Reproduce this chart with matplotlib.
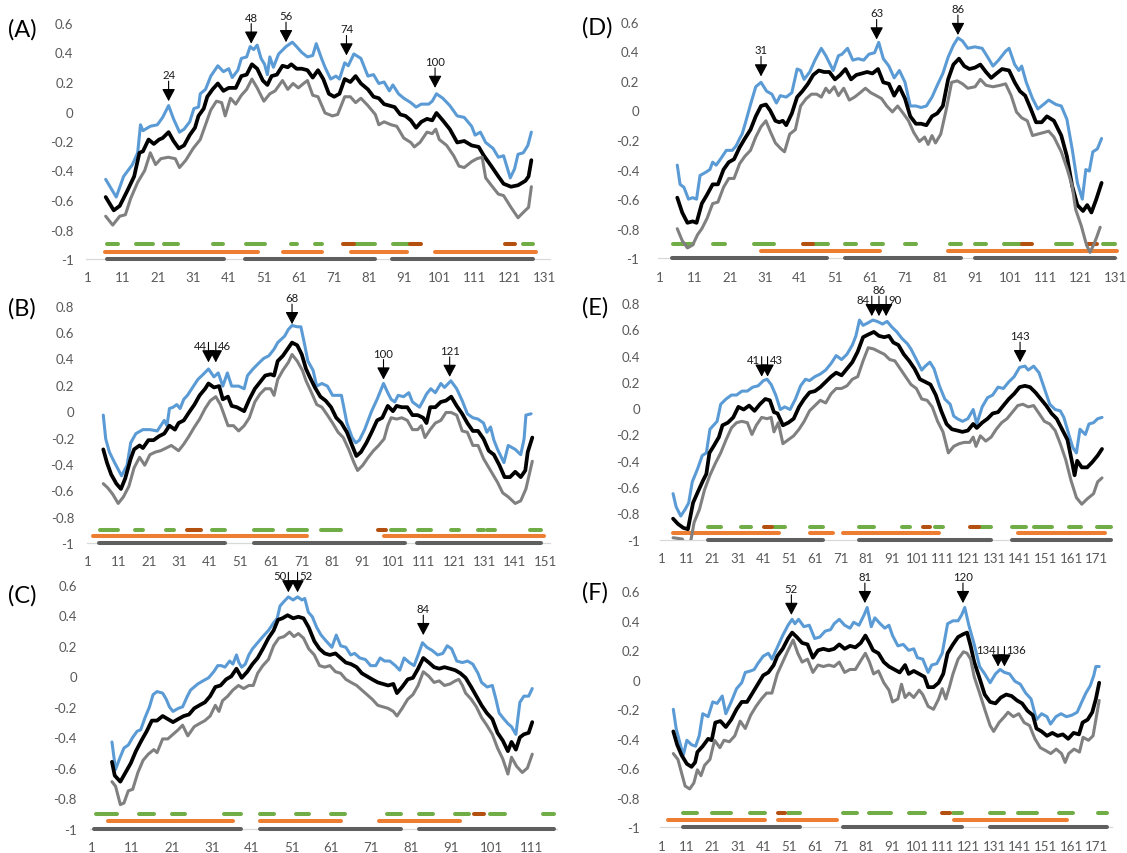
"""
Six-panel profile chart (A-F): three score curves per panel, segment tracks
underneath, and arrows marking selected residues.
"""

import matplotlib
matplotlib.use('Agg')
import matplotlib.pyplot as plt

plt.rcParams['font.family'] = ['Lato', 'DejaVu Sans']

# ─────────────────────────────────────────────────────────────────────────────
# Data  (residue, value) pairs
# ─────────────────────────────────────────────────────────────────────────────

# ---- Panel A ----
A_blue = [(6.1,-.46),(9.1,-.58),(11.2,-.44),(13.7,-.36),(15.2,-.28),(16,-.09),(16.7,-.13),(18.8,-.10),(20.8,-.09),(22.3,-.04),(24,.04),(25.4,-.05),(27.1,-.14),(28.4,-.12),(30,-.07),(31.2,.02),(32.5,.03),(33,.12),(34.5,.15),(36,.24),(38,.31),(39.6,.27),(41.1,.29),(42.1,.23),(43.7,.28),(44.7,.36),(46.2,.37),(47.2,.44),(48.2,.42),(49.2,.45),(50.3,.36),(51.3,.32),(52.1,.25),(52.8,.37),(53.8,.30),(55.3,.39),(57.4,.44),(59.2,.47),(60.4,.44),(61.9,.40),(63.5,.37),(65,.38),(66,.46),(67.5,.36),(68.5,.30),(70.1,.22),(71.6,.24),(72.6,.22),(74.1,.33),(75.1,.31),(76.7,.39),(78.7,.36),(80.7,.24),(82.3,.25),(83.8,.19),(85.3,.20),(86.8,.14),(87.8,.18),(89.4,.12),(90.9,.09),(92.9,.06),(94.4,.03),(95.9,.05),(98,.05),(99,.07),(100.2,.12),(102,.09),(104,.04),(106.1,-.03),(108.1,-.04),(110.2,-.10),(111.2,-.16),(112.7,-.14),(114.2,-.21),(116.3,-.25),(117.8,-.31),(119.3,-.30),(121.2,-.45),(122.4,-.39),(123.4,-.29),(124.9,-.28),(126.2,-.23),(127.2,-.14)]
A_black = [(6.1,-.58),(8.4,-.67),(10.1,-.64),(12.2,-.54),(14.2,-.44),(15.7,-.28),(16.7,-.27),(18.3,-.19),(19.8,-.22),(21.3,-.19),(22.3,-.18),(24,-.14),(25.4,-.20),(26.9,-.25),(28.4,-.23),(30,-.16),(31.5,-.11),(32.5,-.03),(34,.02),(35,.10),(36.5,.15),(38,.19),(39.6,.14),(41.1,.16),(43.1,.16),(44.7,.24),(46.2,.25),(47.7,.32),(49.2,.29),(50.8,.21),(52.1,.18),(53.3,.24),(54.8,.25),(56.4,.31),(57.9,.30),(58.9,.32),(60.4,.29),(61.9,.29),(63.5,.28),(65,.23),(66.5,.28),(68,.22),(69.6,.12),(71.1,.10),(72.6,.12),(74.1,.22),(75.7,.20),(77.2,.24),(78.7,.19),(80.7,.15),(82.3,.10),(83.8,.09),(85.3,.05),(86.8,.04),(88.3,.03),(89.9,-.02),(91.4,-.03),(92.9,-.06),(94.4,-.11),(95.9,-.07),(97.5,-.05),(99,-.06),(100.2,-.01),(102,-.06),(104,-.12),(106.1,-.21),(108.1,-.20),(110.2,-.23),(112.2,-.24),(113.7,-.30),(115.8,-.37),(117.8,-.44),(119.3,-.49),(121.4,-.51),(123.4,-.50),(125.5,-.47),(126.4,-.44),(127.2,-.33)]
A_gray = [(6.1,-.71),(8.1,-.77),(10.1,-.71),(11.7,-.70),(13.2,-.59),(15.2,-.48),(17.2,-.40),(18.8,-.28),(20.3,-.36),(21.8,-.32),(23.9,-.31),(25.9,-.32),(27.1,-.38),(28.9,-.33),(31,-.25),(33,-.19),(34.5,-.09),(36,.01),(37.6,.07),(39.1,.06),(40.1,-.03),(41.6,.09),(43.1,.05),(44.7,.11),(46.2,.15),(47.7,.22),(49.2,.16),(51.1,.07),(52.8,.12),(54.3,.14),(56.4,.21),(57.9,.15),(59.4,.19),(60.9,.16),(62.4,.19),(63.5,.21),(65,.11),(66.5,.10),(68.5,-.01),(70.6,-.03),(72.1,-.02),(74.1,.10),(75.7,.10),(77.2,.06),(78.7,.09),(80.7,.04),(82.8,-.02),(83.8,-.09),(85.3,-.07),(87.3,-.09),(88.9,-.10),(90.9,-.18),(92.9,-.21),(93.9,-.24),(95.5,-.21),(97.5,-.14),(99,-.15),(100,-.12),(101,-.19),(103.1,-.23),(105.1,-.30),(106.6,-.37),(108.1,-.38),(110.2,-.34),(111.7,-.32),(113.2,-.31),(114.2,-.45),(115.8,-.50),(117.8,-.56),(119.3,-.57),(121.4,-.65),(123.4,-.72),(125.5,-.67),(126.4,-.65),(127.2,-.51)]
A_green = [(6.6,9.6),(14.7,19.6),(22.6,26.6),(36.6,39.6),(46,51.5),(58.9,60.6),(65.7,67.5),(76.7,82.6),(87.8,92.7),(124.8,127.7)]
A_brown = [(73.6,76.7),(92.7,95.8),(119.8,122.6)]
A_orange = [(5.8,49.4),(56.6,67.5),(75.9,91.7),(99.8,128.5)]
A_dgray = [(6.6,39.8),(45.7,82.6),(87.6,127.7)]
A_arrow_x = [24, 47.5, 57.4, 74.6, 99.8]
A_arrow_tip = [0.07, 0.46, 0.47, 0.38, 0.16]
A_arrow_label = ['24', '48', '56', '74', '100']
A_arrow_side = ['c', 'c', 'c', 'c', 'c']

# ---- Panel B ----
B_blue = [(6,-.03),(6.8,-.21),(8,-.31),(9.7,-.39),(12,-.49),(13.8,-.41),(15,-.24),(16.7,-.17),(19,-.14),(21.3,-.14),(23.7,-.15),(26,-.07),(26.9,-.11),(27.7,.02),(28.9,.03),(30.1,.05),(31.2,.02),(32.4,.09),(33.6,.12),(35.3,.18),(37,.24),(38.8,.28),(40.5,.32),(42.3,.26),(43.7,.29),(45.2,.19),(46.7,.29),(48.1,.19),(50.4,.19),(52.2,.17),(53.3,.27),(55.1,.32),(56.8,.36),(58.6,.40),(60.3,.42),(62,.47),(63.2,.52),(65.5,.57),(66.7,.62),(67.9,.65),(69.6,.64),(70.8,.64),(71.9,.52),(73.1,.38),(74.8,.31),(76,.19),(77.7,.21),(79.5,.19),(81.2,.12),(83,.12),(84.1,.12),(85.9,-.09),(87.6,-.20),(88.8,-.24),(90,-.22),(91.7,-.14),(94,0),(95.8,.09),(97.9,.21),(99.3,.14),(100.4,.09),(101.6,.07),(102.7,.12),(104.5,.11),(106.2,.14),(107.4,.07),(109.7,.03),(110.9,.08),(112,.13),(113.4,.17),(114.9,.14),(116.7,.21),(117.9,.18),(120,.23),(121.9,.17),(123.7,.08),(125.4,-.02),(127.2,-.05),(128.9,-.06),(130.7,-.09),(131.8,-.16),(133,-.12),(134.1,-.22),(135.3,-.29),(137.4,-.39),(138.8,-.26),(141.1,-.29),(142.9,-.33),(144,-.21),(144.6,-.03),(146.3,-.02)]
B_black = [(6,-.29),(7.2,-.39),(8.6,-.48),(10.3,-.55),(11.8,-.59),(13.2,-.51),(15,-.36),(16.1,-.29),(17.9,-.26),(19,-.28),(20.8,-.22),(22.5,-.22),(24.3,-.19),(26,-.17),(27.7,-.11),(29.5,-.14),(30.7,-.09),(32.4,-.07),(34.1,-.01),(35.9,.05),(37.6,.12),(39.4,.17),(40.5,.21),(42.3,.18),(44,.19),(45.2,.09),(46.9,.11),(48.1,.04),(49.8,.03),(52.2,0),(53.9,.09),(55.7,.17),(57.4,.22),(59.1,.27),(60.9,.28),(62,.27),(63.2,.38),(64.9,.42),(66.1,.46),(67.9,.52),(69.6,.50),(71.1,.43),(72.5,.32),(73.7,.26),(75.4,.18),(77.2,.11),(78.9,.08),(80.7,.03),(82.4,-.05),(84.1,-.09),(85.9,-.16),(87.6,-.26),(89,-.34),(90.5,-.31),(92.3,-.24),(94,-.16),(95.8,-.07),(97.5,-.05),(99.3,.04),(101,0),(102.2,.04),(103.9,.03),(105.7,.03),(107.4,-.03),(109.1,-.03),(110.9,-.05),(112,-.09),(113.2,.03),(114.9,.03),(116.7,.07),(118.4,.08),(120.1,.11),(121.9,.04),(123.7,-.02),(125.4,-.09),(127.2,-.15),(128.9,-.15),(130.7,-.21),(132.4,-.30),(134.1,-.33),(135.9,-.41),(137.6,-.50),(139.4,-.50),(141.1,-.46),(142.9,-.50),(144.4,-.45),(145.2,-.31),(146.7,-.20)]
B_gray = [(6,-.55),(7.4,-.58),(9.1,-.63),(10.9,-.70),(12.6,-.65),(14.4,-.57),(16.1,-.43),(17.9,-.35),(19.6,-.41),(21.3,-.33),(23.1,-.31),(24.8,-.30),(26.6,-.28),(28.3,-.26),(30.7,-.30),(32.4,-.25),(34.1,-.19),(35.9,-.12),(37.6,-.06),(39.4,.02),(41.1,.08),(42.9,.11),(44.4,.05),(45.2,0),(46.9,-.11),(48.7,-.11),(50.4,-.15),(52.2,-.11),(53.9,-.05),(55.7,.07),(57.4,.13),(59.1,.17),(60.9,.17),(62,.12),(63.2,.24),(64.9,.31),(66.7,.37),(67.9,.43),(69.6,.38),(71.3,.31),(72.5,.23),(74.3,.14),(76,.05),(77.7,.03),(79.5,-.03),(81.2,-.09),(83,-.16),(84.7,-.20),(86.5,-.29),(88.2,-.39),(89.4,-.45),(91.1,-.41),(92.9,-.35),(94.6,-.30),(96.3,-.26),(98.1,-.21),(99.3,-.11),(100.4,-.05),(102.2,-.06),(103.9,-.05),(105.7,-.07),(107.4,-.14),(109.1,-.14),(110.3,-.11),(111.5,-.20),(113.2,-.14),(114.9,-.09),(116.7,-.07),(118.4,-.01),(120.1,-.01),(121.9,-.03),(123.7,-.15),(125.4,-.16),(127.2,-.26),(128.9,-.26),(130.7,-.36),(133,-.45),(135.3,-.54),(137,-.62),(138.8,-.65),(141.1,-.70),(142.9,-.68),(144.6,-.59),(146.7,-.38)]
B_green = [(4.8,10.9),(16.5,19),(26.6,29.1),(41.7,46),(55.3,61.8),(66.5,72.7),(77.4,83.9),(100.2,104.8),(109.1,113.4),(119.9,122.5),(128.9,130.7),(131.8,134.4),(146,149.5)]
B_brown = [(33.6,38.2),(96,98.7)]
B_orange = [(2.7,72.7),(98.1,150.4)]
B_dgray = [(4.5,46),(55.3,104.8),(108.8,149.5)]
B_arrow_x = [40.5, 42.9, 67.9, 97.9, 119.6]
B_arrow_tip = [0.37, 0.37, 0.66, 0.24, 0.26]
B_arrow_label = ['44', '46', '68', '100', '121']
B_arrow_side = ['l', 'r', 'c', 'c', 'c']

# ---- Panel C ----
C_blue = [(6,-.43),(6.9,-.61),(7.9,-.54),(9,-.47),(10.1,-.45),(11.2,-.40),(12.3,-.36),(13.2,-.35),(14.3,-.27),(15.4,-.20),(16.3,-.12),(17.3,-.10),(18.7,-.11),(19.6,-.15),(20.4,-.20),(21.3,-.23),(22.6,-.21),(23.7,-.20),(24.9,-.13),(25.7,-.09),(26.6,-.07),(27.5,-.05),(28.8,-.03),(30.2,-.01),(31.5,.03),(32.5,.07),(33.4,.07),(34.3,.06),(35.5,.10),(36.3,.08),(37.2,.14),(37.8,.09),(38.5,.06),(39.4,.08),(40.3,.14),(41.2,.18),(42.5,.22),(43.8,.26),(45.2,.30),(46.5,.35),(47.4,.38),(48.1,.46),(49.1,.49),(50.2,.52),(51.4,.50),(52.5,.52),(53.6,.50),(54.3,.51),(55.2,.42),(56.2,.39),(57.3,.32),(58.4,.27),(59.7,.23),(61.1,.19),(62.2,.27),(63.3,.20),(64.6,.19),(65.8,.14),(66.8,.15),(68.1,.12),(69.5,.11),(70.8,.07),(72.1,.07),(73.2,.12),(74.3,.10),(75.6,.10),(77,.07),(78.1,.04),(79.2,.12),(80.5,.09),(81.7,.07),(82.7,.14),(83.8,.22),(84.9,.19),(86.2,.17),(87.6,.14),(88.9,.15),(90,.20),(91.1,.18),(92.4,.10),(93.8,.09),(95.1,.10),(96.4,.08),(97.7,.02),(98.6,-.04),(100,-.07),(101.3,-.06),(102.2,-.15),(103,-.24),(103.9,-.27),(105.2,-.31),(106.1,-.33),(107.2,-.38),(108.2,-.17),(109.2,-.13),(110.4,-.13),(111.3,-.08)]
C_black = [(6,-.56),(6.7,-.65),(8.1,-.69),(9.4,-.63),(10.7,-.57),(12,-.49),(13.4,-.42),(14.7,-.36),(16,-.29),(17.3,-.29),(18.7,-.26),(20,-.28),(21.3,-.30),(22.6,-.28),(24,-.26),(25.3,-.25),(26.6,-.21),(27.9,-.19),(29.3,-.17),(30.6,-.13),(31.9,-.07),(33.2,-.06),(34.6,-.02),(35.9,0),(37.2,.05),(38.5,-.01),(39.9,.03),(41.2,.08),(42.5,.12),(43.8,.18),(45.2,.25),(46.5,.30),(47.6,.37),(48.7,.38),(50,.40),(51.4,.38),(52.7,.39),(54,.38),(55.3,.32),(56.7,.23),(58,.18),(59.3,.15),(60.6,.14),(62,.15),(63.3,.12),(64.6,.09),(65.9,.08),(67.3,.06),(68.6,.02),(69.9,0),(71.2,-.02),(72.6,-.04),(73.9,-.05),(75.2,-.06),(76.5,-.05),(77.4,-.11),(78.7,-.07),(80.1,-.02),(81.4,-.01),(82.7,.05),(84,.12),(85.4,.09),(86.7,.06),(88,.05),(89.3,.06),(90.7,.05),(92,.04),(93.3,.02),(94.6,-.01),(96,-.07),(97.3,-.13),(98.6,-.19),(99.9,-.24),(101.3,-.28),(102.6,-.37),(103.9,-.42),(105.2,-.49),(106.1,-.43),(107.2,-.48),(108.2,-.40),(109.2,-.38),(110.4,-.37),(111.3,-.30)]
C_gray = [(6,-.69),(6.9,-.72),(8.1,-.84),(9,-.83),(10.1,-.75),(11.2,-.74),(12.5,-.63),(13.8,-.55),(15.1,-.51),(16.5,-.48),(17.3,-.50),(18.7,-.41),(20,-.41),(21.3,-.38),(22.6,-.35),(23.7,-.32),(25,-.39),(26.6,-.33),(27.9,-.31),(29.3,-.29),(30.6,-.26),(31.9,-.19),(32.8,-.23),(33.7,-.16),(35,-.13),(36.3,-.09),(37.7,-.06),(39,-.08),(40.3,-.06),(41.4,-.06),(42.5,.02),(43.8,.07),(45.2,.11),(46.5,.20),(47.8,.25),(49.1,.26),(50.5,.29),(51.6,.26),(52.7,.28),(54,.25),(55.3,.18),(56.7,.14),(58,.07),(59.3,.06),(60.6,.07),(62,.03),(63.3,.02),(64.6,-.02),(65.9,-.04),(67.3,-.06),(68.6,-.09),(69.9,-.12),(71.2,-.15),(72.6,-.19),(73.9,-.20),(75.2,-.21),(76.5,-.23),(77.4,-.26),(78.7,-.21),(80.1,-.15),(81.4,-.12),(82.7,-.06),(84,.03),(85.4,0),(86.7,-.04),(88,-.03),(89.3,-.06),(90.7,-.05),(92,-.03),(92.9,-.02),(93.8,-.06),(94.6,-.11),(96,-.15),(97.3,-.20),(98.6,-.27),(99.9,-.32),(101.3,-.38),(102.6,-.47),(103.9,-.54),(105.2,-.64),(106.1,-.53),(107.4,-.59),(108.8,-.63),(110.1,-.60),(111.3,-.51)]
C_green = [(1.9,7.2),(12.9,16.5),(21.1,24.4),(34,38.4),(43,46.5),(52,55.3),(60.8,64.3),(74.8,78.5),(82.9,86.4),(92,95.5),(100.8,104.5),(114.1,116.7)]
C_brown = [(96.8,99.3)]
C_orange = [(5,36.3),(43,63.5),(73,93.3)]
C_dgray = [(1.6,38.4),(43,78.5),(82.9,116.7)]
C_arrow_x = [50.2, 52.5, 84]
C_arrow_tip = [0.55, 0.55, 0.27]
C_arrow_label = ['50', '52', '84']
C_arrow_side = ['l', 'r', 'c']

# ---- Panel D ----
D_blue = [(6,-.37),(6.8,-.50),(7.9,-.52),(9.2,-.60),(10.4,-.59),(11.5,-.60),(12.5,-.44),(14,-.42),(15.3,-.40),(16.1,-.35),(17.1,-.37),(18.6,-.32),(20,-.27),(21.7,-.27),(22.8,-.24),(23.8,-.19),(24.5,-.16),(25.5,-.08),(26.9,.04),(28.4,.16),(29.9,.19),(31.5,.13),(33,.11),(34.3,.05),(35.4,.10),(37.1,.09),(38.7,.12),(40.2,.28),(41.2,.27),(42.2,.21),(43.8,.26),(45.3,.34),(47.1,.42),(48.4,.37),(50.5,.27),(52,.37),(53,.38),(54.6,.42),(56.1,.34),(57.6,.35),(59.2,.34),(60.7,.38),(62.3,.39),(63.5,.46),(64.8,.35),(66.4,.30),(67.9,.22),(69.4,.27),(71,.19),(72.5,.03),(74.1,.03),(75.6,.02),(77.1,.03),(78.7,.09),(80.2,.17),(81.8,.25),(83.3,.36),(84.8,.44),(86.1,.49),(87.4,.47),(88.9,.42),(90.9,.43),(93,.42),(94.6,.36),(96.1,.30),(97.7,.34),(99.7,.40),(100.7,.42),(102.3,.31),(103.5,.27),(104.3,.30),(105.6,.19),(107.4,.08),(108.9,.01),(110.5,.04),(112,.07),(114.1,.04),(115.6,.03),(117.2,-.06),(118.7,-.26),(120.2,-.49),(121.6,-.60),(122.6,-.40),(123.6,-.41),(124.6,-.28),(125.9,-.26),(127.1,-.19)]
D_black = [(6,-.59),(7.4,-.69),(8.9,-.76),(10.4,-.75),(11.5,-.76),(13,-.63),(14.5,-.57),(16.1,-.50),(17.6,-.50),(19.2,-.40),(20.7,-.35),(22.2,-.33),(23.8,-.25),(25.3,-.19),(26.9,-.13),(28.4,-.04),(29.9,.03),(31.3,.04),(32.5,0),(34,-.07),(35.1,-.08),(36.1,-.07),(37.1,-.10),(38.7,-.02),(40.2,.09),(41.7,.13),(43.3,.18),(44.8,.24),(46.4,.27),(47.9,.26),(49.4,.26),(51,.21),(52.5,.24),(54,.28),(55.6,.21),(57.1,.24),(58.7,.25),(60.2,.26),(61.7,.25),(63.3,.28),(64.8,.19),(66.4,.18),(67.9,.10),(69.4,.16),(71,.08),(72.5,-.04),(74.1,-.09),(75.6,-.09),(77.1,-.10),(78.7,-.04),(80.2,-.02),(81.8,.03),(83.3,.21),(84.8,.31),(86.4,.35),(87.9,.30),(89.4,.28),(91,.29),(92.5,.31),(94.1,.26),(95.6,.22),(97.1,.25),(98.7,.28),(100.7,.27),(102.3,.19),(103.8,.13),(105.3,.10),(106.9,.01),(108.4,-.08),(110,-.08),(111.5,-.04),(113.5,-.07),(115.6,-.17),(117.2,-.31),(118.7,-.51),(120.2,-.64),(121.8,-.68),(123,-.64),(124.2,-.69),(125.6,-.60),(127.1,-.49)]
D_gray = [(6,-.80),(7.4,-.88),(8.9,-.93),(10.4,-.91),(11.8,-.84),(13,-.80),(14.5,-.73),(16.1,-.63),(17.6,-.62),(19.2,-.52),(20.7,-.46),(22.2,-.46),(23.8,-.36),(25.3,-.31),(26.9,-.27),(28.4,-.18),(29.9,-.11),(31.3,-.07),(32.5,-.14),(34,-.22),(35.6,-.26),(36.6,-.28),(38.1,-.16),(39.7,-.13),(41.2,.03),(42.8,.08),(44.3,.11),(45.8,.11),(47.1,.09),(48.4,.15),(49.4,.12),(50.8,.16),(52,.10),(53.5,.15),(55.1,.07),(56.6,.09),(58.2,.12),(59.7,.15),(61.2,.12),(62.8,.10),(64.3,.08),(65.8,.03),(67.4,-.01),(68.9,.03),(70.5,-.02),(72,-.07),(73.5,-.15),(75.1,-.21),(76.6,-.18),(77.6,-.23),(78.7,-.17),(79.7,-.22),(81.2,-.16),(82.8,.01),(84.3,.19),(85.9,.20),(87.4,.18),(88.9,.15),(91,.16),(92.5,.21),(94.1,.17),(96.1,.16),(98.2,.17),(99.7,.18),(101.3,.10),(102.8,-.01),(104.3,-.05),(105.9,-.07),(107.4,-.17),(108.9,-.16),(110.5,-.15),(112,-.14),(113.5,-.18),(115.6,-.28),(117.2,-.39),(118.7,-.51),(119.7,-.67),(121.3,-.78),(122.8,-.91),(123.8,-.96),(125,-.90),(125.8,-.85),(126.7,-.79)]
D_green = [(4.8,10.4),(16.1,19.7),(27.9,33.5),(44.8,48.9),(54,57.1),(61.7,64.8),(71,74.1),(83.8,86.9),(91,94.1),(99.2,104.3),(114.1,118.7),(127.4,131)]
D_brown = [(41.9,44.8),(104.3,107.2),(123.3,125.9)]
D_orange = [(29.9,63.8),(83.3,131.5)]
D_dgray = [(4.6,48.7),(54,86.9),(91,131)]
D_arrow_x = [29.9, 62.9, 86.1]
D_arrow_tip = [0.23, 0.48, 0.51]
D_arrow_label = ['31', '63', '86']
D_arrow_side = ['c', 'c', 'c']

# ---- Panel E ----
E_blue = [(5.6,-.65),(6.8,-.75),(8.6,-.82),(10.3,-.77),(11.7,-.72),(13.1,-.56),(15.2,-.46),(17,-.36),(18.6,-.34),(20,-.16),(21.4,-.13),(22.8,-.10),(24.2,.03),(26.3,.07),(28.4,.10),(30.4,.10),(32.5,.13),(34.6,.13),(36.7,.16),(38.8,.17),(40.9,.21),(42.3,.22),(43.9,.18),(45.7,.10),(47.5,-.01),(49.2,.01),(51.3,-.01),(53.4,.07),(55.4,.17),(57.3,.22),(58.9,.21),(61,.24),(63.1,.26),(65.2,.29),(67.3,.34),(69.3,.40),(71.4,.37),(73.5,.41),(75.6,.48),(77,.55),(78.4,.67),(79.8,.63),(81.8,.65),(83.6,.67),(85.3,.66),(87.4,.64),(89.2,.66),(90.9,.62),(93,.58),(95,.53),(97.1,.49),(98.5,.45),(100.6,.37),(102.7,.29),(104.1,.32),(105.9,.35),(107.5,.30),(109.6,.17),(111.7,.07),(113.8,.03),(115.2,-.06),(116.6,-.08),(118.6,-.10),(120.7,-.08),(122.8,-.01),(124.2,-.12),(126.3,.01),(128.4,.08),(130.4,.10),(132.5,.16),(134.6,.15),(136.7,.20),(138.8,.24),(140.9,.31),(143,.32),(144.3,.29),(146.4,.32),(148.5,.27),(150.6,.15),(152.7,.03),(154.8,-.01),(156.8,-.02),(158.2,-.07),(160.3,-.21),(161.7,-.30),(163.1,-.34),(164.5,-.16),(166.6,-.20),(168,-.12),(169.8,-.11),(171.4,-.08),(173.1,-.07)]
E_black = [(5.6,-.84),(7.5,-.88),(9.6,-.91),(11.4,-.92),(13.4,-.72),(15.2,-.64),(17.3,-.55),(18.6,-.50),(19.8,-.34),(21.4,-.29),(23.5,-.22),(24.9,-.13),(27,-.11),(29.1,-.07),(31.1,.01),(33.2,-.01),(35.3,.02),(37.4,-.02),(39.5,.03),(41.6,.07),(43.4,.06),(45,-.03),(46.4,-.04),(48.5,-.13),(50.6,-.11),(52.7,-.08),(54.8,.01),(56.8,.07),(58.9,.12),(61,.13),(63.1,.16),(65.2,.20),(67.3,.24),(69.3,.27),(71.4,.25),(73.5,.30),(75.6,.35),(77.7,.43),(79.8,.54),(81.8,.56),(84,.58),(86,.55),(88.1,.54),(89.9,.55),(91.6,.50),(93.6,.48),(95.7,.41),(97.8,.36),(99.9,.30),(102,.22),(104.1,.20),(106.1,.18),(108.2,.10),(110.3,-.02),(112.4,-.12),(114.5,-.16),(116.6,-.17),(118.6,-.18),(120.7,-.17),(122.8,-.12),(124.2,-.15),(126.3,-.11),(128.4,-.08),(130.4,-.04),(132.5,-.03),(134.6,.02),(136.7,.07),(138.8,.11),(140.9,.16),(143,.17),(145,.16),(147.1,.12),(149.2,.07),(151.3,.02),(153.4,-.04),(155.4,-.08),(157.5,-.16),(159.6,-.24),(161.4,-.41),(162.4,-.51),(163.4,-.40),(165.2,-.45),(167.3,-.45),(169.3,-.41),(171.4,-.36),(173.1,-.31)]
E_gray = [(5.6,-.985),(9.2,-.995),(11,-1.06),(12.6,-1.0),(13.8,-.87),(15.9,-.77),(17.9,-.62),(20,-.51),(22.1,-.42),(24.2,-.34),(26.3,-.24),(28.4,-.15),(30.4,-.11),(32.5,-.10),(34.6,-.11),(36.4,-.20),(38.1,-.13),(40.2,-.07),(42.3,-.08),(43.9,-.07),(45,-.18),(46.7,-.11),(48.5,-.27),(50.6,-.24),(52.7,-.21),(54.8,-.16),(56.8,-.10),(58.9,-.02),(61,.02),(63.1,.06),(65.2,.04),(67.3,.11),(69.3,.15),(71.4,.15),(73.5,.17),(75.6,.22),(77.7,.24),(79.8,.36),(81.8,.46),(84,.45),(86,.43),(88.1,.41),(90.2,.37),(92.2,.36),(94.3,.30),(96.4,.24),(98.5,.18),(100.6,.15),(102.7,.07),(104.8,.06),(106.8,.01),(108.9,-.10),(111,-.18),(113.1,-.34),(115.2,-.29),(117.3,-.27),(119.3,-.26),(121.4,-.26),(122.8,-.22),(123.9,-.29),(125.6,-.21),(127.7,-.25),(129.8,-.22),(131.8,-.16),(133.9,-.11),(136,-.08),(138.1,-.03),(140.2,.02),(142.2,.03),(144.3,.01),(146.4,.02),(148.5,-.04),(150.6,-.10),(152.7,-.12),(154.8,-.17),(156.8,-.27),(158.9,-.39),(161,-.55),(163.1,-.68),(165.2,-.73),(167.3,-.69),(169.8,-.65),(171.4,-.56),(173.1,-.53)]
E_green = [(19.3,24.2),(32.3,36),(45,49.2),(59.2,64.2),(78.1,84.2),(95,98.1),(107.9,111),(124.9,129.8),(138.1,143.6),(146.4,149.9),(150.6,153.6),(160.3,164.8),(171.3,176.5)]
E_brown = [(41.1,44.3),(103.1,106.1),(121.7,124.9)]
E_orange = [(5.4,47.1),(59.2,67.9),(72.1,109.6),(140.2,174.2)]
E_dgray = [(19.3,64.2),(78.1,129.8),(138.1,176.5)]
E_arrow_x = [40.2, 42.5, 83.2, 86, 88.8, 141.1]
E_arrow_tip = [0.24, 0.24, 0.70, 0.70, 0.70, 0.35]
E_arrow_label = ['41', '43', '84', '86', '90', '143']
E_arrow_side = ['l', 'r', 'l', 'c', 'r', 'c']

# ---- Panel F ----
F_blue = [(5.7,-.20),(6.8,-.33),(8.6,-.45),(9.6,-.51),(11,-.41),(12.8,-.44),(14.4,-.45),(15.8,-.38),(17.2,-.23),(19.3,-.25),(21.1,-.15),(22.8,-.16),(24.8,-.11),(26.2,-.23),(28.3,-.15),(30.4,-.06),(32.4,-.02),(33.8,.05),(35.9,.06),(37.3,.07),(38.7,.11),(40.8,.16),(42.8,.18),(44.2,.14),(46.3,.22),(48.4,.30),(50.5,.37),(52.1,.41),(53.2,.38),(54.6,.41),(56.7,.36),(58.8,.37),(60.9,.28),(62.9,.29),(65,.33),(67.1,.34),(68.5,.38),(70.5,.41),(72.6,.37),(74.7,.35),(76.1,.39),(78.2,.37),(80.2,.44),(81.4,.49),(83,.36),(84.4,.42),(86.5,.38),(88.3,.35),(89.9,.37),(91.3,.30),(93.4,.23),(95.5,.24),(97.6,.20),(99.6,.21),(101,.15),(103.1,.14),(105.2,.05),(106.6,.10),(108.6,.11),(110.7,.18),(112.8,.38),(114.9,.40),(116.9,.40),(118.3,.44),(119.5,.49),(121.1,.37),(123.2,.24),(125.3,.09),(127.3,.04),(129.4,-.02),(131.5,.04),(133.3,.07),(135,.05),(137,.04),(139.1,-.01),(141.2,-.03),(143.3,-.09),(145.4,-.13),(147.5,-.27),(149.5,-.23),(151.6,-.25),(153,-.30),(155.1,-.25),(157.1,-.23),(159.2,-.25),(161.3,-.24),(163.4,-.22),(165.2,-.15),(166.8,-.09),(168.5,-.04),(169.9,.03),(170.7,.09),(172,.09)]
F_black = [(5.7,-.35),(7.2,-.44),(8.9,-.51),(11,-.57),(12.8,-.59),(14.2,-.56),(15.1,-.49),(17.2,-.45),(19.3,-.40),(20.7,-.41),(22.1,-.29),(24.1,-.28),(26.2,-.32),(28.3,-.27),(30.4,-.20),(32.4,-.15),(34.5,-.15),(36.6,-.09),(38.7,-.03),(40.8,.03),(42.8,.05),(44.9,.10),(46.3,.16),(48.4,.21),(50.5,.28),(52.1,.32),(53.9,.29),(56,.25),(58.1,.24),(60.2,.15),(62.2,.20),(64.3,.21),(66.4,.20),(68.5,.21),(70.5,.24),(72.6,.21),(74.7,.23),(76.8,.22),(78.9,.25),(80.7,.30),(82.3,.25),(83.7,.20),(85.8,.18),(87.9,.12),(89.9,.09),(92,.07),(94.1,.05),(96.2,.10),(97.6,.04),(99.6,.06),(101.7,.04),(103.8,.02),(105.2,-.05),(107.3,-.05),(109.3,-.02),(111.1,.04),(112.8,.18),(114.9,.24),(116.9,.29),(119,.31),(120.4,.32),(121.8,.23),(123.2,.12),(125.3,.01),(127.3,-.10),(129.4,-.15),(131.5,-.16),(133.6,-.12),(135.7,-.10),(137.8,-.11),(139.9,-.14),(141.9,-.16),(144,-.21),(146.1,-.24),(147.5,-.33),(149.5,-.35),(151.6,-.38),(153.7,-.36),(155.8,-.38),(157.8,-.37),(159.9,-.40),(162,-.36),(164.1,-.37),(165.5,-.29),(167.5,-.27),(169.3,-.22),(170.7,-.13),(172,-.02)]
F_gray = [(5.7,-.50),(7.5,-.54),(8.9,-.63),(10.3,-.72),(12.1,-.74),(13.7,-.70),(15.1,-.61),(16.5,-.65),(17.9,-.58),(20,-.54),(21.8,-.41),(23.9,-.46),(25.5,-.41),(27.6,-.42),(29.7,-.38),(31.8,-.28),(33.8,-.33),(35.9,-.24),(38,-.18),(40.1,-.13),(42.1,-.09),(44.2,-.09),(46.3,.04),(48.4,.12),(50.5,.20),(52.5,.27),(54.3,.18),(56,.12),(58.1,.14),(60.2,.05),(62.2,.10),(64.3,.09),(66.4,.10),(68.5,.09),(70.5,.12),(72.6,.05),(74.7,.07),(76.8,.07),(78.9,.13),(80.7,.18),(82.3,.12),(83.9,.04),(85.8,.06),(87.9,-.02),(89.9,-.07),(91.3,-.15),(93.4,-.13),(94.8,-.03),(96.2,-.12),(97.8,-.09),(99.6,-.12),(101.7,-.07),(103.1,-.10),(105.2,-.18),(107.3,-.20),(109.3,-.13),(110.7,-.06),(112.1,-.13),(113.5,-.05),(114.9,.04),(116.9,.14),(119,.19),(120.4,.18),(121.8,.14),(123.2,.02),(125.3,-.09),(127.3,-.20),(129.4,-.31),(130.8,-.35),(132.9,-.29),(135,-.25),(136.4,-.22),(138.5,-.25),(140.6,-.23),(142.7,-.29),(144.8,-.31),(146.9,-.40),(149,-.46),(151.1,-.48),(153.1,-.50),(155.2,-.47),(157.3,-.50),(158.7,-.56),(160.1,-.50),(162.2,-.47),(164.3,-.49),(165.7,-.39),(167.8,-.41),(169.6,-.38),(170.7,-.27),(172,-.14)]
F_green = [(9.6,15.1),(20.7,28.3),(35.5,41.5),(50.5,55.3),(71.9,77.5),(82,90.6),(97.8,103.8),(114.9,118.6),(129.2,134.7),(140.2,147.7),(156.2,161.6),(171.5,175.2)]
F_brown = [(46.6,49.4),(110.7,113.9)]
F_orange = [(3.6,41.5),(46.6,69.6),(115.2,159.6)]
F_dgray = [(9.6,55.3),(71.9,118.6),(129.2,175.2)]
F_arrow_x = [51.8, 80.5, 118.8, 132.5, 135]
F_arrow_tip = [0.44, 0.52, 0.52, 0.09, 0.09]
F_arrow_label = ['52', '81', '120', '134', '136']
F_arrow_side = ['c', 'c', 'c', 'l', 'r']

# ─────────────────────────────────────────────────────────────────────────────
# Style / layout
# ─────────────────────────────────────────────────────────────────────────────

W, H = 1127, 854
C_BLUE, C_BLACK, C_GRAY = '#5b9bd5', '#000000', '#808080'
C_GREEN, C_BROWN, C_ORANGE, C_DGRAY = '#70ad47', '#b4500f', '#ed7d31', '#5f5f5f'
TRACK_Y = {'green': -0.9, 'orange': -0.95, 'dgray': -1.0}
TICK_COLOR = '#595959'

# letter: (x0, x1, y_top, y_bottom) px, xmax, ymax, last x label, y pad, letter pos
LAYOUT = {
    'A': ((86, 550, 24, 260), 132.5, 0.6, 131, 9, (8, 30)),
    'B': ((86.5, 550, 306.7, 544), 152.5, 0.8, 151, 9, (8, 309)),
    'C': ((90, 557, 585.7, 830), 117.5, 0.6, 111, 9.5, (8, 596)),
    'D': ((658, 1117, 22.7, 259.3), 131.5, 0.6, 131, 13.5, (582, 27.5)),
    'E': ((660, 1112, 304, 540.7), 177, 0.8, 171, 14.5, (582, 308)),
    'F': ((660, 1112, 592.3, 828.3), 177, 0.6, 171, 14.5, (582, 593)),
}

PANELS = {
    'A': (A_blue, A_black, A_gray, A_green, A_brown, A_orange, A_dgray,
          A_arrow_x, A_arrow_tip, A_arrow_label, A_arrow_side),
    'B': (B_blue, B_black, B_gray, B_green, B_brown, B_orange, B_dgray,
          B_arrow_x, B_arrow_tip, B_arrow_label, B_arrow_side),
    'C': (C_blue, C_black, C_gray, C_green, C_brown, C_orange, C_dgray,
          C_arrow_x, C_arrow_tip, C_arrow_label, C_arrow_side),
    'D': (D_blue, D_black, D_gray, D_green, D_brown, D_orange, D_dgray,
          D_arrow_x, D_arrow_tip, D_arrow_label, D_arrow_side),
    'E': (E_blue, E_black, E_gray, E_green, E_brown, E_orange, E_dgray,
          E_arrow_x, E_arrow_tip, E_arrow_label, E_arrow_side),
    'F': (F_blue, F_black, F_gray, F_green, F_brown, F_orange, F_dgray,
          F_arrow_x, F_arrow_tip, F_arrow_label, F_arrow_side),
}


def draw_track(ax, spans, y, color):
    for a, b in spans:
        ax.plot([a, b], [y, y], color=color, lw=2.9, solid_capstyle='round',
                clip_on=False, zorder=2)


def draw_arrows(ax, xs, tips, labels, sides, shaft=20):
    for x, y, lab, side in zip(xs, tips, labels, sides):
        ax.annotate('', xy=(x, y), xytext=(0, shaft), textcoords='offset pixels',
                    arrowprops=dict(arrowstyle='-|>,head_length=0.75,head_width=0.4',
                                    color='black', lw=0.8, shrinkA=0, shrinkB=0),
                    annotation_clip=False, zorder=5)
        if side == 'c':
            off, ha, va = (0, shaft + 1), 'center', 'bottom'
        elif side == 'l':
            off, ha, va = (-2, shaft - 3), 'right', 'center'
        else:
            off, ha, va = (2, shaft - 3), 'left', 'center'
        ax.annotate(lab, xy=(x, y), xytext=off, textcoords='offset pixels',
                    ha=ha, va=va, fontsize=8.2, color='#1a1a1a',
                    annotation_clip=False, zorder=6)


fig = plt.figure(figsize=(W / 100, H / 100), dpi=100)

for letter, (box, xmax, ymax, xlast, ypad, letter_pos) in LAYOUT.items():
    (blue, black, gray, green, brown, orange, dgray,
     ax_x, ax_tip, ax_lab, ax_side) = PANELS[letter]
    x0, x1, ytop, ybot = box
    ax = fig.add_axes([x0 / W, 1 - ybot / H, (x1 - x0) / W, (ybot - ytop) / H])
    ax.set_xlim(0.5, xmax)
    ax.set_ylim(-1, ymax)
    for s in ax.spines.values():
        s.set_visible(False)
    ax.axhline(-1, color='#d9d9d9', lw=0.9, zorder=1, clip_on=False)

    draw_track(ax, green, TRACK_Y['green'], C_GREEN)
    draw_track(ax, brown, TRACK_Y['green'], C_BROWN)
    draw_track(ax, orange, TRACK_Y['orange'], C_ORANGE)
    draw_track(ax, dgray, TRACK_Y['dgray'], C_DGRAY)

    for series, color, lw in ((blue, C_BLUE, 2.2), (black, C_BLACK, 2.7), (gray, C_GRAY, 2.2)):
        xs, ys = zip(*series)
        ax.plot(xs, ys, color=color, lw=lw, solid_joinstyle='round',
                solid_capstyle='round', zorder=3)

    draw_arrows(ax, ax_x, ax_tip, ax_lab, ax_side)

    yt = [-1, -0.8, -0.6, -0.4, -0.2, 0, 0.2, 0.4, 0.6] + ([0.8] if ymax > 0.7 else [])
    ax.set_yticks(yt)
    ax.set_yticklabels([f'{v:g}' for v in yt])
    xt = list(range(1, xlast + 1, 10))
    ax.set_xticks(xt)
    ax.set_xticklabels([str(v) for v in xt])
    ax.tick_params(axis='both', length=0, labelsize=9.5, labelcolor=TICK_COLOR)
    ax.tick_params(axis='y', pad=ypad)
    ax.tick_params(axis='x', pad=9)
    ax.patch.set_visible(False)

    fig.text(letter_pos[0] / W, 1 - letter_pos[1] / H, f'({letter})',
             fontsize=17, ha='left', va='center', color='black')

fig.savefig('out.png', dpi=100)
